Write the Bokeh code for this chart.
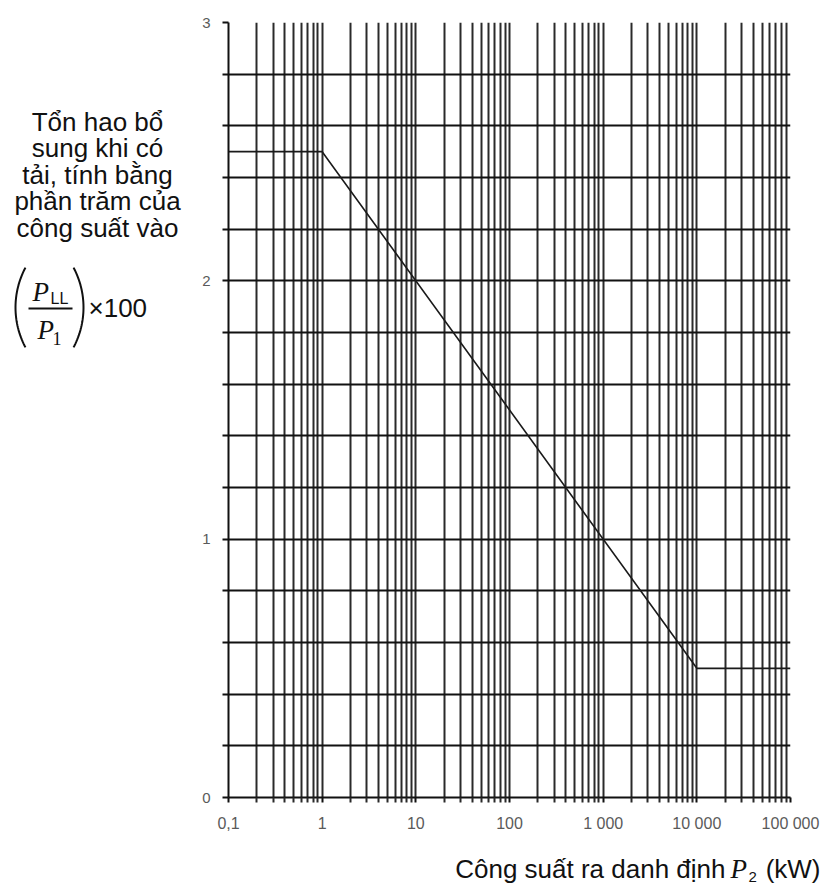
import numpy as np
from bokeh.plotting import figure
from bokeh.models import FixedTicker
from bokeh.layouts import row, column
from bokeh.core.properties import value
from bokeh.embed import file_html
from bokeh.resources import INLINE

# ---- data ----
power_kw = [0.1, 1, 10000, 100000]
loss_pct = [2.5, 2.5, 0.5, 0.5]
decades = [0.1, 1, 10, 100, 1000, 10000, 100000]
decade_labels = ["0,1", "1", "10", "100", "1 000", "10 000", "100 000"]
y_ticks = [0, 0.2, 0.4, 0.6, 0.8, 1, 1.2, 1.4, 1.6, 1.8, 2, 2.2, 2.4, 2.6, 2.8, 3]
y_labels = {0: "0", 1: "1", 2: "2", 3: "3"}
y_title_lines = ["Tổn hao bổ", "sung khi có", "tải, tính bằng", "phần trăm của", "công suất vào"]
x_title = "Công suất ra danh định"

SANS = "Liberation Sans"
SERIF = "Liberation Serif"
INK = "#111111"

minor_x = []
for d in decades[:-1]:
    for m in range(2, 10):
        minor_x.append(round(d * m, 6))
all_x = sorted(decades + minor_x)


def blank(width, height, xr, yr):
    f = figure(width=width, height=height, x_range=xr, y_range=yr,
               output_backend="svg", toolbar_location=None,
               x_axis_location=None, y_axis_location=None,
               min_border=0, min_border_left=0, min_border_right=0,
               min_border_top=0, min_border_bottom=0)
    f.grid.visible = False
    f.outline_line_color = None
    f.frame_align = False
    return f


# ---- main chart ----
p = figure(width=627, height=840, x_axis_type="log", x_range=(0.1, 100000), y_range=(0, 3),
           output_backend="svg", toolbar_location=None,
           min_border_left=33, min_border_right=32, min_border_top=22, min_border_bottom=43)
p.outline_line_color = None

p.xgrid.ticker = FixedTicker(ticks=all_x)
p.xgrid.grid_line_color = "#2a2a2a"
p.xgrid.grid_line_width = 2
p.ygrid.ticker = FixedTicker(ticks=y_ticks)
p.ygrid.grid_line_color = INK
p.ygrid.grid_line_width = 2

p.xaxis.ticker = FixedTicker(ticks=decades, minor_ticks=minor_x)
p.xaxis.major_label_overrides = {d: l for d, l in zip(decades, decade_labels)}
p.xaxis.axis_line_color = INK
p.xaxis.axis_line_width = 2
p.xaxis.major_tick_in = 0
p.xaxis.major_tick_out = 5
p.xaxis.minor_tick_in = 0
p.xaxis.minor_tick_out = 5
p.xaxis.major_tick_line_color = INK
p.xaxis.minor_tick_line_color = "#2a2a2a"
p.xaxis.major_tick_line_width = 2
p.xaxis.minor_tick_line_width = 2
p.xaxis.major_label_text_font = SANS
p.xaxis.major_label_text_font_size = "16px"
p.xaxis.major_label_text_color = "#5a5a5a"
p.xaxis.major_label_standoff = 12

p.yaxis.ticker = FixedTicker(ticks=y_ticks)
p.yaxis.major_label_overrides = {t: y_labels.get(t, "") for t in y_ticks}
p.yaxis.axis_line_color = INK
p.yaxis.axis_line_width = 2
p.yaxis.major_tick_in = 0
p.yaxis.major_tick_out = 6
p.yaxis.minor_tick_line_color = None
p.yaxis.major_tick_line_color = INK
p.yaxis.major_tick_line_width = 2
p.yaxis.major_label_text_font = SANS
p.yaxis.major_label_text_font_size = "15px"
p.yaxis.major_label_text_color = "#5a5a5a"
p.yaxis.major_label_standoff = 12

p.line(power_kw, loss_pct, line_color="#1a1a1a", line_width=1.6)

# ---- left panel: y title (pixel-like coordinates, y downward) ----
L = blank(195, 840, (0, 195), (840, 0))
L.text(x=[97] * len(y_title_lines), y=[121, 147.5, 174, 200.5, 227], text=y_title_lines,
       text_font=value(SANS), text_font_size="26px", text_align="center",
       text_baseline="middle", text_color=INK)

# parentheses as thin arcs
theta = np.linspace(np.radians(152), np.radians(208), 40)
r = 85
L.line(100 + r * np.cos(theta), 307 + r * np.sin(theta), line_color=INK, line_width=2)
L.line(-2 - r * np.cos(theta), 307 + r * np.sin(theta), line_color=INK, line_width=2)
# fraction bar
L.line([28, 72], [308, 308], line_color=INK, line_width=2)
L.text(x=[32, 37], y=[291, 329], text=["P", "P"], text_font=value(SERIF),
       text_font_style="italic", text_font_size="27px", text_baseline="middle",
       text_color=INK)
L.text(x=[50], y=[298], text=["LL"], text_font=value(SANS), text_font_size="16px",
       text_baseline="middle", text_color=INK)
L.text(x=[52], y=[338], text=["1"], text_font=value(SERIF), text_font_size="18px",
       text_baseline="middle", text_color=INK)
L.text(x=[88], y=[307], text=["×100"], text_font=value(SANS), text_font_size="26px",
       text_baseline="middle", text_color=INK)

# ---- bottom panel: x title (page-like coordinates) ----
B = blank(822, 43, (0, 822), (883, 840))
B.text(x=[725], y=[868], text=[x_title], text_font=value(SANS), text_font_size="26px",
       text_align="right", text_baseline="middle", text_color=INK)
B.text(x=[730], y=[868], text=["P"], text_font=value(SERIF), text_font_style="italic",
       text_font_size="27px", text_baseline="middle", text_color=INK)
B.text(x=[748], y=[876], text=["2"], text_font=value(SANS), text_font_size="15px",
       text_baseline="middle", text_color=INK)
B.text(x=[820], y=[868], text=["(kW)"], text_font=value(SANS), text_font_size="26px",
       text_align="right", text_baseline="middle", text_color=INK)

layout = column(row(L, p, spacing=0), B, spacing=0)
open("out.html", "w").write(file_html(layout, INLINE))
